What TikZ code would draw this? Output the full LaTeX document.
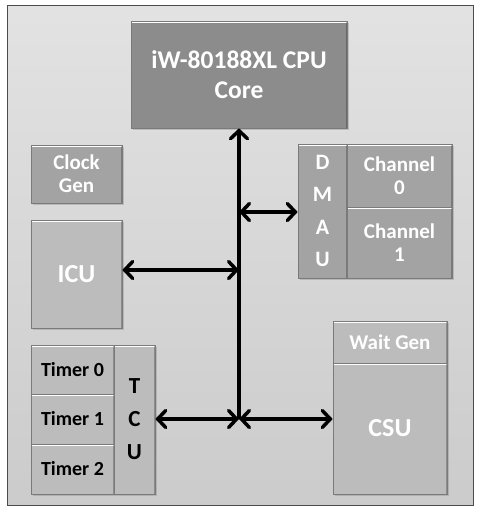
\documentclass[tikz,border=0pt]{standalone}
\usepackage{fontspec}
\setmainfont{Carlito}
\usetikzlibrary{arrows.meta,shadows}
\definecolor{framebg}{HTML}{D6D6D6}
\definecolor{cpufill}{HTML}{8C8C8C}
\definecolor{midfill}{HTML}{A3A3A3}
\definecolor{lightfill}{HTML}{BCBCBC}
\definecolor{edgec}{HTML}{7A7A7A}
\tikzset{
  blk/.style={draw=edgec, line width=0.6pt, inner sep=0pt, align=center,
    font=\bfseries\fontsize{21}{23}\selectfont, text=white,
    drop shadow={shadow xshift=1.5pt, shadow yshift=-1.5pt, opacity=0.35},
    path picture={
      \draw[white, line width=3pt]
        (path picture bounding box.north west) -- (path picture bounding box.north east);
      \draw[white, opacity=0.5, line width=1.6pt]
        (path picture bounding box.north west) -- (path picture bounding box.south west);
      \draw[black, opacity=0.25, line width=1.6pt]
        (path picture bounding box.north east) -- (path picture bounding box.south east);
    }},
  cpu/.style={blk, fill=cpufill, font=\bfseries\fontsize{25.5}{30}\selectfont},
  mid/.style={blk, fill=midfill},
  light/.style={blk, fill=lightfill},
  dark/.style={blk, fill=lightfill, text=black, font=\bfseries\fontsize{20}{22}\selectfont},
  bus/.style={line width=3.5pt, line cap=round, black},
  tip/.style={line width=3.5pt, line cap=round, black,
    arrows={Straight Barb[length=8pt,width=17pt,line cap=round]-Straight Barb[length=8pt,width=17pt,line cap=round]}},
  uptip/.style={line width=3.5pt, black,
    arrows={-Straight Barb[length=8pt,width=17pt,line cap=round]}}
}
\begin{document}
\begin{tikzpicture}[x=1pt,y=-1pt]
\useasboundingbox (0,0) rectangle (480,515);
% frame
\shade[top color=framebg!70!white, bottom color=framebg!95!black, draw=black!70, line width=1pt]
  (7,5) rectangle (473,505);
% blocks
\node[cpu, minimum width=216pt, minimum height=107pt] (CPU) at (239,74.5) {iW-80188XL CPU\\Core};
\node[mid, minimum width=91pt, minimum height=58pt] (CLK) at (76.5,174) {Clock\\Gen};
\node[light, minimum width=91pt, minimum height=108pt] (ICU) at (76.5,274) {\fontsize{26}{28}\selectfont ICU};
\node[mid, font=\bfseries\fontsize{22}{32.5}\selectfont, minimum width=49pt, minimum height=134pt] (DMAU) at (322.5,211) {D\\M\\A\\U};
\node[mid, minimum width=105pt, minimum height=63pt] (CH0) at (399.5,175.5) {Channel\\0};
\node[mid, minimum width=105pt, minimum height=71pt] (CH1) at (399.5,242.5) {Channel\\1};
\node[dark, minimum width=83pt, minimum height=49pt] (T0) at (72.5,369.5) {Timer 0};
\node[dark, minimum width=83pt, minimum height=50pt] (T1) at (72.5,419) {Timer 1};
\node[dark, minimum width=83pt, minimum height=50pt] (T2) at (72.5,469) {Timer 2};
\node[dark, font=\bfseries\fontsize{23}{33}\selectfont, minimum width=41pt, minimum height=149pt] (TCU) at (134.5,419.5) {T\\C\\U};
\node[light, minimum width=114pt, minimum height=42pt] (WG) at (390,342) {Wait Gen};
\node[light, minimum width=114pt, minimum height=131pt] (CSU) at (390,428.5) {\fontsize{26}{28}\selectfont CSU};
% bus
\coordinate (jn) at (239,419);
\coordinate (dm) at (239,212);
\coordinate (ic) at (239,270);
\draw[uptip] (jn) -- (CPU.south);
\draw[tip] (dm) -- (dm -| DMAU.west);
\draw[tip] (ICU.east |- ic) -- (ic);
\draw[tip] (TCU.east |- jn) -- (jn);
\draw[tip] (jn) -- (jn -| CSU.west);
\end{tikzpicture}
\end{document}
